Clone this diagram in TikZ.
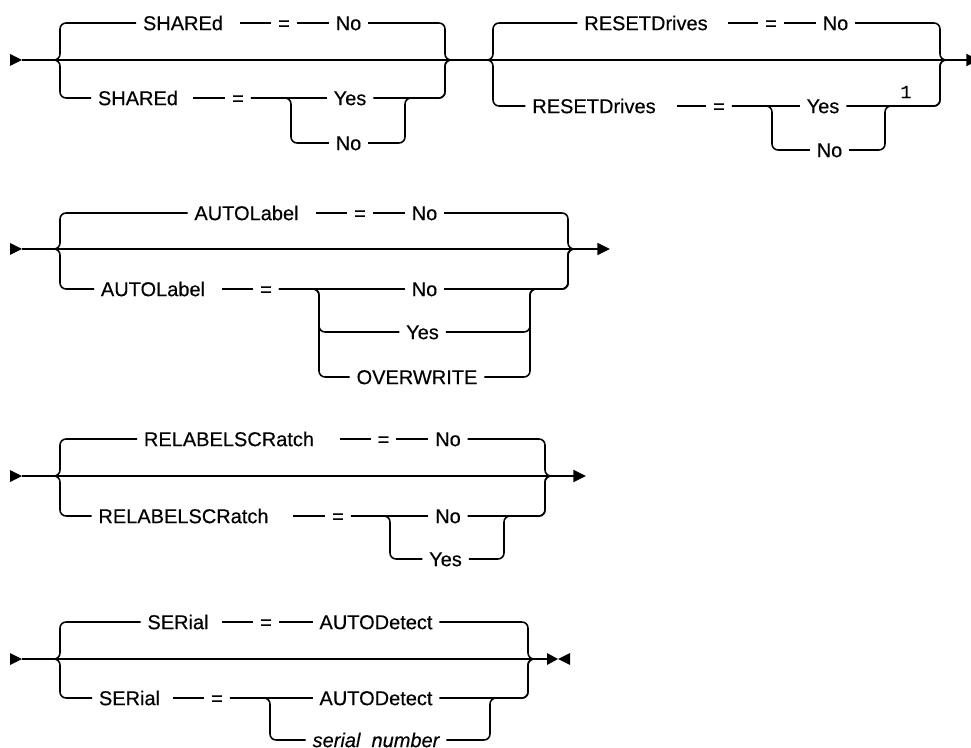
\documentclass[tikz,border=0pt]{standalone}
\usepackage{fontspec}
\setmainfont{Liberation Sans}[FakeBold=0.35]
\setmonofont{Liberation Mono}[FakeBold=0.35]
\usetikzlibrary{arrows.meta}

\tikzset{
  rail/.style={line width=1.15pt, rounded corners=4.5pt},
  word/.style={inner xsep=5pt, inner ysep=0pt, text height=10.7pt, text depth=0pt,
    font=\fontsize{15pt}{18pt}\selectfont},
  ahead/.style={-{Triangle[length=9.5pt,width=9pt]}},
}

\begin{document}
\begin{tikzpicture}[x=0.75pt, y=-0.75pt]
  \useasboundingbox (0,0) rectangle (971,748);

  % SHAREd / RESETDrives
  \coordinate (in1) at (22,60);
  \coordinate (out1) at (979,60);
  \fill (10,54) -- (22,60) -- (10,66) -- cycle;
  \draw[rail, ahead] (in1) -- (out1);
  \coordinate (shL) at (60,60);   \coordinate (shLt) at (52,60);
  \coordinate (shR) at (445,60);  \coordinate (shRt) at (453,60);
  \coordinate (shsl) at (291,143); \coordinate (shsr) at (405,98);
  \node[word] (sh1) at (183,23) {SHAREd};
  \node[word] (sheq1) at (284,23) {=};
  \node[word] (shno1) at (348.5,23) {No};
  \node[word] (sh2) at (138,98) {SHAREd};
  \node[word] (sheq2) at (238,98) {=};
  \node[word] (shyes) at (350,98) {Yes};
  \node[word] (shno2) at (348.5,143) {No};
  \draw[rail] (sh1.west) -| (shL) -- (shLt);
  \draw[rail, shorten <=7.5pt] (sh1.east) -- (sheq1.west);
  \draw[rail] (sheq1.east) -- (shno1.west);
  \draw[rail] (shno1.east) -| (shR) -- (shRt);
  \draw[rail] (sh2.west) -| (shL) -- (shLt);
  \draw[rail, shorten <=6pt] (sh2.east) -- (sheq2.west);
  \draw[rail] (sheq2.east) -- (shyes.west);
  \draw[rail] (shyes.east) -| (shR) -- (shRt);
  \draw[rail] (sheq2.east) -| (shsl) -- (shno2.west);
  \draw[rail] (shno2.east) -| (shsr) -| (shR) -- (shRt);

  \coordinate (rdL) at (493,60);  \coordinate (rdLt) at (487,60);
  \coordinate (rdR) at (940,60);  \coordinate (rdRt) at (948,60);
  \coordinate (rdsl) at (772,150); \coordinate (rdsr) at (885,106);
  \node[word] (rd1) at (646,23) {RESETDrives};
  \node[word] (rdeq1) at (771,23) {=};
  \node[word] (rdno1) at (835.5,23) {No};
  \node[word] (rd2) at (594,106) {RESETDrives};
  \node[word] (rdeq2) at (719,106) {=};
  \node[word] (rdyes) at (823,106) {Yes};
  \node[word] (rdno2) at (829.5,150) {No};
  \node[word, font=\ttfamily\fontsize{14pt}{16pt}\selectfont] (fn1) at (906,91) {1};
  \draw[rail] (rd1.west) -| (rdL) -- (rdLt);
  \draw[rail, shorten <=10pt] (rd1.east) -- (rdeq1.west);
  \draw[rail] (rdeq1.east) -- (rdno1.west);
  \draw[rail] (rdno1.east) -| (rdR) -- (rdRt);
  \draw[rail] (rd2.west) -| (rdL) -- (rdLt);
  \draw[rail, shorten <=11pt] (rd2.east) -- (rdeq2.west);
  \draw[rail] (rdeq2.east) -- (rdyes.west);
  \draw[rail] (rdyes.east) -| (rdR) -- (rdRt);
  \draw[rail] (rdeq2.east) -| (rdsl) -- (rdno2.west);
  \draw[rail] (rdno2.east) -| (rdsr) -| (rdR) -- (rdRt);

  % AUTOLabel
  \coordinate (in2) at (22,249);
  \coordinate (out2) at (610,249);
  \fill (10,243) -- (22,249) -- (10,255) -- cycle;
  \draw[rail, ahead] (in2) -- (out2);
  \coordinate (alL) at (60,249);  \coordinate (alLt) at (53,249);
  \coordinate (alR) at (568,249); \coordinate (alRt) at (577,249);
  \coordinate (als1) at (319,332); \coordinate (als2) at (319,377);
  \coordinate (alsr) at (530,289);
  \node[word] (al1) at (246.5,213) {AUTOLabel};
  \node[word] (aleq1) at (360,213) {=};
  \node[word] (alno1) at (424.5,213) {No};
  \node[word] (al2) at (153,289) {AUTOLabel};
  \node[word] (aleq2) at (266,289) {=};
  \node[word] (alno2) at (424.5,289) {No};
  \node[word] (alyes) at (422.5,332) {Yes};
  \node[word] (alow) at (417,377) {OVERWRITE};
  \draw[rail] (al1.west) -| (alL) -- (alLt);
  \draw[rail, shorten <=7.5pt] (al1.east) -- (aleq1.west);
  \draw[rail] (aleq1.east) -- (alno1.west);
  \draw[rail] (alno1.east) -| (alR) -- (alRt);
  \draw[rail] (al2.west) -| (alL) -- (alLt);
  \draw[rail, shorten <=7.5pt] (al2.east) -- (aleq2.west);
  \draw[rail] (aleq2.east) -- (alno2.west);
  \draw[rail] (alno2.east) -| (alR) -- (alRt);
  \draw[rail] (aleq2.east) -| (als1) -- (alyes.west);
  \draw[rail] (aleq2.east) -| (als2) -- (alow.west);
  \draw[rail] (alyes.east) -| (alsr) -| (alR) -- (alRt);
  \draw[rail] (alow.east) -| (alsr) -| (alR) -- (alRt);

  % RELABELSCRatch
  \coordinate (in3) at (22,476);
  \coordinate (out3) at (586,476);
  \fill (10,470) -- (22,476) -- (10,482) -- cycle;
  \draw[rail, ahead] (in3) -- (out3);
  \coordinate (rlL) at (60,476);  \coordinate (rlLt) at (53,476);
  \coordinate (rlR) at (545,476); \coordinate (rlRt) at (553,476);
  \coordinate (rlsl) at (390,559); \coordinate (rlsr) at (504,516);
  \node[word] (rl1) at (229,439) {RELABELSCRatch};
  \node[word] (rleq1) at (383.5,439) {=};
  \node[word] (rlno1) at (448,439) {No};
  \node[word] (rl2) at (183.5,516) {RELABELSCRatch};
  \node[word] (rleq2) at (338,516) {=};
  \node[word] (rlno2) at (448,516) {No};
  \node[word] (rlyes) at (445.5,559) {Yes};
  \draw[rail] (rl1.west) -| (rlL) -- (rlLt);
  \draw[rail, shorten <=14pt] (rl1.east) -- (rleq1.west);
  \draw[rail] (rleq1.east) -- (rlno1.west);
  \draw[rail] (rlno1.east) -| (rlR) -- (rlRt);
  \draw[rail] (rl2.west) -| (rlL) -- (rlLt);
  \draw[rail, shorten <=13.5pt] (rl2.east) -- (rleq2.west);
  \draw[rail] (rleq2.east) -- (rlno2.west);
  \draw[rail] (rlno2.east) -| (rlR) -- (rlRt);
  \draw[rail] (rleq2.east) -| (rlsl) -- (rlyes.west);
  \draw[rail] (rlyes.east) -| (rlsr) -| (rlR) -- (rlRt);

  % SERial
  \coordinate (in4) at (22,659);
  \coordinate (out4) at (547,659);
  \fill (10,653) -- (22,659) -- (10,665) -- cycle;
  \fill (547,653) -- (558,659) -- (547,665) -- cycle;
  \fill (570,653) -- (558,659) -- (570,665) -- cycle;
  \draw[rail] (in4) -- (out4);
  \coordinate (seL) at (60,659);  \coordinate (seLt) at (53,659);
  \coordinate (seR) at (528,659); \coordinate (seRt) at (538,659);
  \coordinate (sesl) at (270,740); \coordinate (sesr) at (490,698);
  \node[word] (se1) at (178,622) {SERial};
  \node[word] (seeq1) at (266,622) {=};
  \node[word] (seauto1) at (376,622) {AUTODetect};
  \node[word] (se2) at (129.5,698) {SERial};
  \node[word] (seeq2) at (217,698) {=};
  \node[word] (seauto2) at (376,698) {AUTODetect};
  \node[word, font=\fontsize{15pt}{18pt}\selectfont\itshape] (senum) at (376,740) {serial\_number};
  \draw[rail] (se1.west) -| (seL) -- (seLt);
  \draw[rail, shorten <=5pt] (se1.east) -- (seeq1.west);
  \draw[rail] (seeq1.east) -- (seauto1.west);
  \draw[rail] (seauto1.east) -| (seR) -- (seRt);
  \draw[rail] (se2.west) -| (seL) -- (seLt);
  \draw[rail, shorten <=4.5pt] (se2.east) -- (seeq2.west);
  \draw[rail] (seeq2.east) -- (seauto2.west);
  \draw[rail] (seauto2.east) -| (seR) -- (seRt);
  \draw[rail] (seeq2.east) -| (sesl) -- (senum.west);
  \draw[rail] (senum.east) -| (sesr) -| (seR) -- (seRt);
\end{tikzpicture}
\end{document}
